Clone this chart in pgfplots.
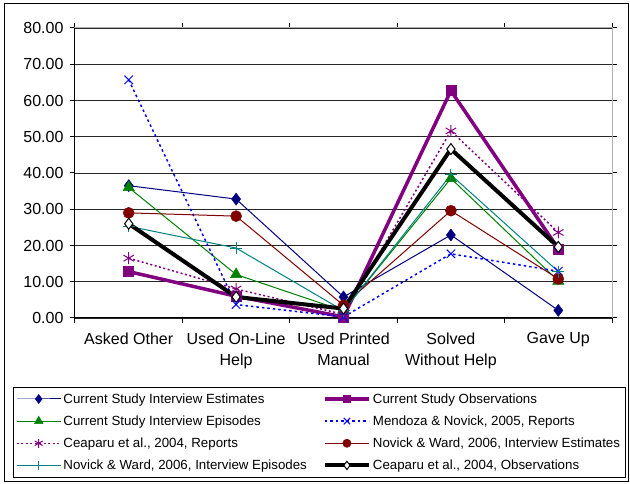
\documentclass[border=0pt]{standalone}
\usepackage{pgfplots}
\pgfplotsset{compat=1.18}
\usepackage{fontspec}
\setmainfont{Liberation Sans}
\definecolor{cnavy}{HTML}{000080}
\definecolor{cpurple}{HTML}{800080}
\definecolor{cgreen}{HTML}{008000}
\definecolor{cblue}{HTML}{0000FF}
\definecolor{cmaroon}{HTML}{800000}
\definecolor{cteal}{HTML}{008080}
\begin{document}
\begin{tikzpicture}
\begin{axis}[name=ax, scale only axis, width=537pt, height=290pt,
  xmin=-0.5, xmax=4.5, ymin=0, ymax=80,
  xtick={0,1,2,3,4},
  xticklabels={Asked Other,{Used On-Line\\Help},{Used Printed\\Manual},{Solved\\Without Help},Gave Up},
  xticklabel style={align=center, font=\fontsize{16}{21}\selectfont, yshift=-6pt},
  minor xtick={-0.5,0.5,1.5,2.5,3.5,4.5},
  major x tick style={draw=none},
  tick align=outside, tick style={black, line width=1pt},
  major tick length=5pt, minor tick length=5pt,
  ytick={0,10,...,80},
  yticklabel={\pgfmathprintnumber[fixed,fixed zerofill,precision=2,assume math mode=true]{\tick}},
  yticklabel style={font=\fontsize{16}{18}\selectfont, xshift=-3pt},
  ymajorgrids, grid style={black!85, line width=0.9pt},
  axis line style={draw=gray!60, line width=1pt},
  clip=false,
  legend columns=2,
  legend cell align=left,
  legend style={at={(0.4544,-0.238)}, anchor=north, draw=black, line width=0.8pt,
    font=\fontsize{13.3}{16}\selectfont, row sep=7pt, inner ysep=4pt,
    /tikz/every even column/.append style={column sep=14pt}},
  legend image code/.code={\draw[mark repeat=2,mark phase=2,every mark/.append style={scale=0.75}] plot coordinates {(0pt,0pt) (22pt,0pt) (44pt,0pt)};},
]
\addplot[cnavy, line width=1pt, mark=diamond*, mark size=6pt, mark options={solid, line width=0.5pt}]
  coordinates {(0,36.5) (1,32.8) (2,5.8) (3,22.9) (4,2.1)};
\addlegendentry{Current Study Interview Estimates}
\addplot[cpurple, line width=3.5pt, mark=square*, mark size=5pt, mark options={solid, line width=0.5pt}]
  coordinates {(0,12.8) (1,6.0) (2,0.3) (3,62.7) (4,19.1)};
\addlegendentry{Current Study Observations}
\addplot[cgreen, line width=1pt, mark=triangle*, mark size=6.5pt, mark options={solid, line width=0.5pt}]
  coordinates {(0,36.0) (1,12.0) (2,2.0) (3,38.5) (4,10.2)};
\addlegendentry{Current Study Interview Episodes}
\addplot[cblue, line width=1.5pt, dash pattern=on 2.5pt off 3pt, mark=x, mark size=6pt, mark options={solid, line width=1pt}]
  coordinates {(0,65.7) (1,3.7) (2,0.3) (3,17.7) (4,12.9)};
\addlegendentry{Mendoza \& Novick, 2005, Reports}
\addplot[cpurple, line width=1.5pt, dash pattern=on 2pt off 2.5pt, mark=asterisk, mark size=6pt, mark options={solid, line width=1pt}]
  coordinates {(0,16.5) (1,8.0) (2,1.0) (3,51.6) (4,23.6)};
\addlegendentry{Ceaparu et al., 2004, Reports}
\addplot[cmaroon, line width=1pt, mark=*, mark size=5.5pt, mark options={solid, line width=0.5pt}]
  coordinates {(0,29.0) (1,28.1) (2,3.5) (3,29.6) (4,10.8)};
\addlegendentry{Novick \& Ward, 2006, Interview Estimates}
\addplot[cteal, line width=1pt, mark=+, mark size=6pt, mark options={solid, line width=1pt}]
  coordinates {(0,25.3) (1,19.3) (2,2.0) (3,39.5) (4,12.8)};
\addlegendentry{Novick \& Ward, 2006, Interview Episodes}
\addplot[black, line width=4pt, mark=diamond*, mark size=5.5pt, mark options={solid, fill=white, line width=1pt}]
  coordinates {(0,26.0) (1,5.8) (2,2.6) (3,46.6) (4,19.6)};
\addlegendentry{Ceaparu et al., 2004, Observations}
\draw[black, line width=1pt] (rel axis cs:0,1) -- (rel axis cs:0,0) -- (rel axis cs:1,0);
\end{axis}
\draw[black, line width=1pt] ([shift={(-70pt,-164pt)}]ax.south west) rectangle ([shift={(16pt,24pt)}]ax.north east);
\pgfresetboundingbox
\path[use as bounding box] ([shift={(-75pt,-166pt)}]ax.south west) rectangle ([shift={(18pt,28pt)}]ax.north east);
\end{tikzpicture}
\end{document}
